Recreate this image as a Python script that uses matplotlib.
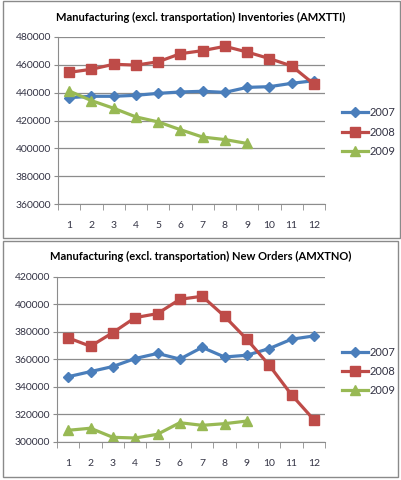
"""Two Excel-style line charts: manufacturing inventories and new orders."""

import matplotlib.pyplot as plt
from matplotlib.patches import Rectangle
import numpy as np

months = np.arange(1, 13)
years = ["2007", "2008", "2009"]

# Inventories (AMXTTI)
inv_2007 = [436400, 437400, 437400, 438100, 439500, 440500, 441000, 440200, 443800, 444300, 446700, 448600]
inv_2008 = [454600, 456800, 460400, 459800, 462200, 468000, 470200, 473300, 469200, 464500, 459200, 446200]
inv_2009 = [441200, 434300, 428800, 422600, 419000, 413400, 408100, 406300, 403500]

# New orders (AMXTNO)
ord_2007 = [347400, 351100, 354800, 360600, 364300, 360200, 368700, 361700, 363000, 367800, 374600, 377000]
ord_2008 = [375600, 369500, 379400, 390300, 393200, 403600, 405800, 391300, 374600, 355800, 334300, 316200]
ord_2009 = [308500, 310000, 303400, 302900, 305600, 314000, 312100, 313300, 315200]

colors = ["#4A7EBB", "#BE4B48", "#98B954"]
markers = ["D", "s", "^"]
msizes = [5, 7.5, 7]

plt.rcParams['font.family'] = ['Lato', 'DejaVu Sans']
text_col = "#333344"
grid_col = "#8c8c8c"

fig = plt.figure(figsize=(4.01, 4.80), dpi=100)

# Chart frames
fig.add_artist(Rectangle((3 / 401, 1 - 238 / 480), 397 / 401, 237 / 480, transform=fig.transFigure,
                         fill=False, edgecolor="#8a8a8a", linewidth=1))
fig.add_artist(Rectangle((3 / 401, 1 - 477 / 480), 395 / 401, 236 / 480, transform=fig.transFigure,
                         fill=False, edgecolor="#8a8a8a", linewidth=1))


def draw(ax, series, ylim, title, title_y, leg_y):
    for vals, c, m, ms, label in zip(series, colors, markers, msizes, years):
        ax.plot(months[:len(vals)], vals, color=c, marker=m, markersize=ms, linewidth=2.3,
                label=label, markeredgecolor=c)
    ax.set_xlim(0.5, 12.5)
    ax.set_ylim(*ylim)
    ax.set_yticks(np.arange(ylim[0], ylim[1] + 1, 20000))
    ax.set_xticks(months)
    ax.set_xticks(np.arange(0.5, 13, 1), minor=True)
    ax.tick_params(axis='x', which='major', length=0, pad=12, labelsize=7.5, labelcolor=text_col)
    ax.tick_params(axis='x', which='minor', length=4, color=grid_col, direction='out')
    ax.tick_params(axis='y', length=3, color=grid_col, pad=2, labelsize=7.5, labelcolor=text_col)
    ax.grid(axis='y', color=grid_col, linewidth=0.9)
    ax.set_axisbelow(True)
    for side in ["top", "right"]:
        ax.spines[side].set_visible(False)
    for side in ["left", "bottom"]:
        ax.spines[side].set_color(grid_col)
    ax.legend(loc='center left', bbox_to_anchor=(1.064, leg_y), frameon=False, fontsize=8,
              handlelength=2.3, labelspacing=0.75, handletextpad=0.15, borderpad=0,
              borderaxespad=0, labelcolor=text_col)
    fig.text(0.5, title_y, title, ha='center', va='center', fontsize=8, fontweight='bold')


ax1 = fig.add_axes([58 / 401, 1 - 204 / 480, 267 / 401, 167 / 480])
draw(ax1, [inv_2007, inv_2008, inv_2009], (360000, 480000),
     "Manufacturing (excl. transportation) Inventories (AMXTTI)", 1 - 17 / 480, 0.43)

ax2 = fig.add_axes([57 / 401, 1 - 442 / 480, 268 / 401, 165.3 / 480])
draw(ax2, [ord_2007, ord_2008, ord_2009], (300000, 420000),
     "Manufacturing (excl. transportation) New Orders (AMXTNO)", 1 - 256 / 480, 0.427)

fig.savefig("out.png", dpi=100)
